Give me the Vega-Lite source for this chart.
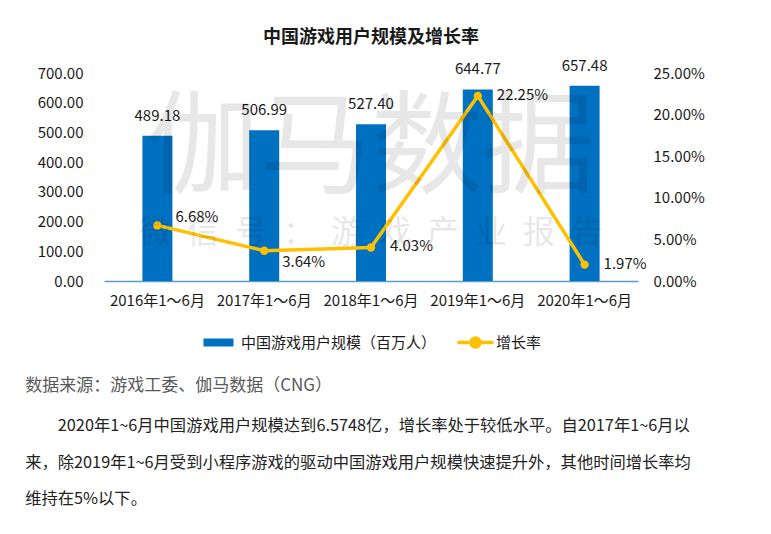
{
  "$schema": "https://vega.github.io/schema/vega-lite/v6.json",
  "padding": {"left": 25, "top": 28, "right": 0, "bottom": 0},
  "background": "white",
  "title": {
    "text": "数据来源：游戏工委、伽马数据（CNG）",
    "subtitle": ["\u200b\u3000\u30002020年1~6月中国游戏用户规模达到6.5748亿，增长率处于较低水平。自2017年1~6月以", "来，除2019年1~6月受到小程序游戏的驱动中国游戏用户规模快速提升外，其他时间增长率均", "维持在5%以下。"],
    "orient": "bottom",
    "anchor": "start",
    "frame": "bounds",
    "dx": -12,
    "offset": 24,
    "font": "Noto Sans CJK SC",
    "fontSize": 17,
    "fontWeight": "normal",
    "color": "#595959",
    "subtitleFont": "Noto Sans CJK SC",
    "subtitleFontSize": 16.3,
    "subtitleColor": "#222222",
    "subtitleLineHeight": 36.5,
    "subtitlePadding": 23
  },
  "vconcat": [
    {
      "width": 534,
      "height": 208,
      "title": {"text": "中国游戏用户规模及增长率", "font": "Noto Sans CJK SC", "fontSize": 18, "fontWeight": "bold", "color": "#1a1a1a", "anchor": "middle", "offset": 12},
      "data": {"values": [
        {"period": "2016年1～6月", "users": 489.18, "rate": 0.0668},
        {"period": "2017年1～6月", "users": 506.99, "rate": 0.0364},
        {"period": "2018年1～6月", "users": 527.40, "rate": 0.0403},
        {"period": "2019年1～6月", "users": 644.77, "rate": 0.2225},
        {"period": "2020年1～6月", "users": 657.48, "rate": 0.0197}
      ]},
      "encoding": {
        "x": {
          "field": "period", "type": "nominal", "sort": null,
          "scale": {"domain": ["2016年1～6月", "2017年1～6月", "2018年1～6月", "2019年1～6月", "2020年1～6月"], "paddingInner": 0, "paddingOuter": 0},
          "axis": {"title": null, "labelAngle": 0, "ticks": false, "domainColor": "#5b9bd5", "domainWidth": 1.5, "labelPadding": 12}
        }
      },
      "layer": [
        {
          "encoding": {
            "y": {"field": "users", "type": "quantitative", "scale": {"domain": [0, 700]},
              "axis": {"orient": "left", "values": [0, 100, 200, 300, 400, 500, 600, 700], "format": ".2f", "title": null, "grid": false, "domain": false, "ticks": false, "labelPadding": 21}}
          },
          "layer": [
            {
              "mark": {"type": "bar", "width": 30},
              "encoding": {
                "fill": {"datum": "中国游戏用户规模（百万人）", "type": "nominal", "scale": {"range": ["#0070C0"]},
                  "legend": {"title": null, "orient": "none", "legendX": 96, "legendY": 262, "symbolType": "M-1,-1H6.5V1H-1Z", "symbolSize": 64, "symbolStrokeWidth": 0, "labelOffset": 26, "labelLimit": 400}}
              }
            },
            {
              "mark": {"type": "text", "dy": -20, "baseline": "middle"},
              "encoding": {"text": {"field": "users", "type": "quantitative", "format": ".2f"}}
            }
          ]
        },
        {
          "encoding": {
            "y": {"field": "rate", "type": "quantitative", "scale": {"domain": [0, 0.25]},
              "axis": {"orient": "right", "values": [0, 0.05, 0.1, 0.15, 0.2, 0.25], "format": ".2%", "title": null, "grid": false, "domain": false, "ticks": false, "labelPadding": 15}}
          },
          "layer": [
            {
              "mark": {"type": "line", "strokeWidth": 3.5},
              "encoding": {
                "stroke": {"datum": "增长率", "type": "nominal", "scale": {"range": ["#FFC000"]},
                  "legend": {"title": null, "orient": "none", "legendX": 351, "legendY": 262, "symbolType": "M-1,0H6.2M3.5,0A0.9,0.9,0,1,1,1.7,0A0.9,0.9,0,1,1,3.5,0Z", "symbolSize": 100, "symbolStrokeWidth": 3.5, "symbolFillColor": "#FFC000", "labelOffset": 26, "labelLimit": 400}}
              }
            },
            {
              "mark": {"type": "point", "filled": true, "size": 70, "color": "#FFC000", "opacity": 1}
            },
            {
              "transform": [{"filter": "datum.period === '2018年1～6月' || datum.period === '2019年1～6月' || datum.period === '2020年1～6月'"}],
              "mark": {"type": "text", "align": "left", "dx": 19, "dy": -1, "baseline": "middle"},
              "encoding": {"text": {"field": "rate", "type": "quantitative", "format": ".2%"}}
            },
            {
              "transform": [{"filter": "datum.period === '2016年1～6月'"}],
              "mark": {"type": "text", "align": "left", "dx": 18, "dy": -8, "baseline": "middle"},
              "encoding": {"text": {"field": "rate", "type": "quantitative", "format": ".2%"}}
            },
            {
              "transform": [{"filter": "datum.period === '2017年1～6月'"}],
              "mark": {"type": "text", "align": "left", "dx": 18, "dy": 11, "baseline": "middle"},
              "encoding": {"text": {"field": "rate", "type": "quantitative", "format": ".2%"}}
            }
          ]
        },
        {
          "data": {"values": [{"wm": "伽马数据", "v": 437}]},
          "mark": {"type": "text", "fontSize": 112, "color": "#000000", "opacity": 0.09, "baseline": "middle", "align": "center"},
          "encoding": {
            "x": {"datum": "2018年1～6月"},
            "y": {"field": "v", "type": "quantitative", "scale": {"domain": [0, 700]}, "axis": null},
            "text": {"field": "wm"}
          }
        },
        {
          "data": {"values": [{"wm": "微\u2002信\u2002号\u2002：\u2002游\u2002戏\u2002产\u2002业\u2002报\u2002告", "v": 161}]},
          "mark": {"type": "text", "fontSize": 32, "color": "#000000", "opacity": 0.09, "baseline": "middle", "align": "center"},
          "encoding": {
            "x": {"datum": "2018年1～6月"},
            "y": {"field": "v", "type": "quantitative", "scale": {"domain": [0, 700]}, "axis": null},
            "text": {"field": "wm"}
          }
        }
      ],
      "resolve": {"scale": {"y": "independent"}}
    }
  ],
  "config": {
    "view": {"stroke": null},
    "font": "Noto Sans CJK SC",
    "axis": {"labelFont": "Noto Sans CJK SC", "labelFontSize": 15, "labelColor": "#1a1a1a"},
    "legend": {"padding": 0, "labelFont": "Noto Sans CJK SC", "labelFontSize": 15, "labelColor": "#1a1a1a"},
    "text": {"font": "Noto Sans CJK SC", "fontSize": 15, "color": "#1a1a1a"}
  }
}
